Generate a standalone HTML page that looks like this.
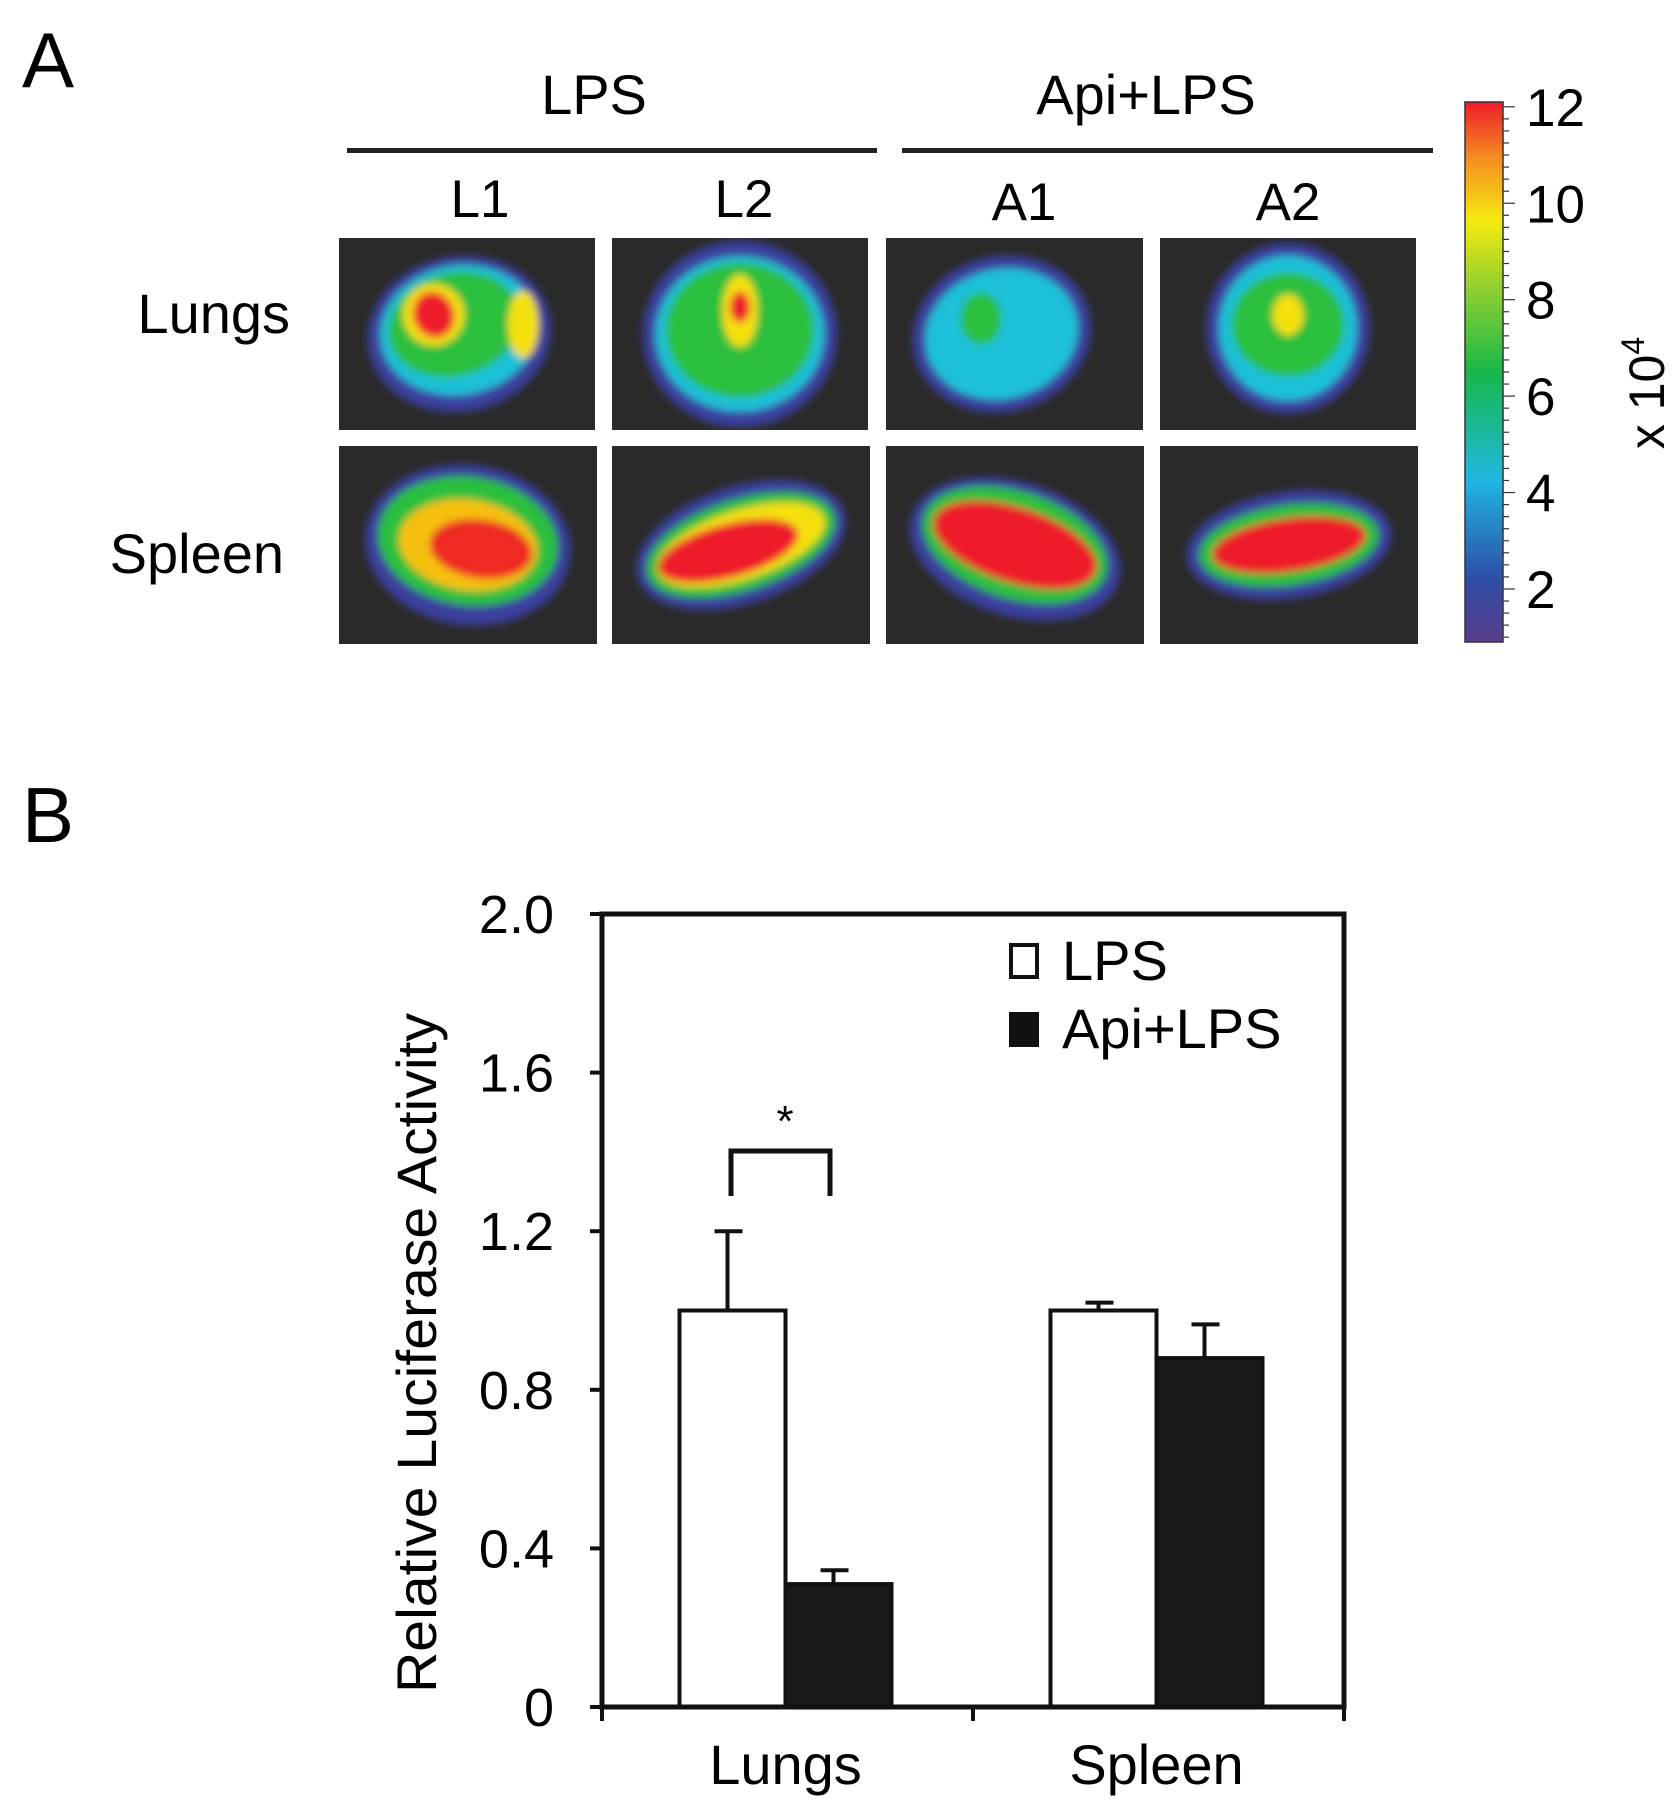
<!DOCTYPE html>
<html><head><meta charset="utf-8">
<style>
html,body{margin:0;padding:0;background:#fff;}
body{width:1677px;height:1811px;position:relative;overflow:hidden;font-family:"Liberation Sans",sans-serif;}
</style></head>
<body>
<svg width="1677" height="1811" viewBox="0 0 1677 1811" xmlns="http://www.w3.org/2000/svg" font-family="Liberation Sans, sans-serif">
<defs>
<linearGradient id="cbar" x1="0" y1="1" x2="0" y2="0">
<stop offset="0" stop-color="#5a3d8a"/><stop offset="0.12" stop-color="#2d4fa8"/>
<stop offset="0.3" stop-color="#1fb8e0"/><stop offset="0.5" stop-color="#18b848"/>
<stop offset="0.65" stop-color="#8ccf30"/><stop offset="0.78" stop-color="#f5ea10"/>
<stop offset="0.9" stop-color="#f58a20"/><stop offset="1" stop-color="#ee1c2a"/>
</linearGradient>
<filter id="bl" x="-20%" y="-20%" width="140%" height="140%"><feGaussianBlur stdDeviation="4"/></filter>
</defs>

<!-- Panel A -->
<text x="22" y="87" font-size="78">A</text>
<text x="594" y="114" font-size="56" text-anchor="middle">LPS</text>
<text x="1146" y="114" font-size="56" text-anchor="middle">Api+LPS</text>
<rect x="347" y="148" width="530" height="5" fill="#222"/>
<rect x="902" y="148" width="531" height="5" fill="#222"/>
<g font-size="53" text-anchor="middle">
<text x="480" y="217">L1</text>
<text x="744" y="217">L2</text>
<text x="1024" y="220">A1</text>
<text x="1288" y="220">A2</text>
</g>
<text x="290" y="333" font-size="56" text-anchor="end">Lungs</text>
<text x="284" y="573" font-size="56" text-anchor="end">Spleen</text>

<g id="heatmaps"></g>

<!-- colorbar -->
<rect x="1465" y="102" width="38" height="540" fill="url(#cbar)" stroke="#333" stroke-width="1.5"/>
<g id="cbticks"></g>
<text transform="translate(1664,393) rotate(-90)" font-size="50" text-anchor="middle">x 10<tspan dy="-20" font-size="32">4</tspan></text>

<!-- Panel B -->
<text x="22" y="842" font-size="78">B</text>
<g id="chart"></g>
</svg>
<script>
const NS='http://www.w3.org/2000/svg';
function mk(tag,attrs,parent){const e=document.createElementNS(NS,tag);for(const k in attrs)e.setAttribute(k,attrs[k]);parent.appendChild(e);return e;}

// ---- heatmaps (panel A, illustrative) ----
const hm=document.getElementById('heatmaps');
const defs=document.querySelector('defs');
const cells=[[339,238,256,192],[612,238,256,192],[886,238,257,192],[1160,238,256,192],
             [339,446,258,198],[612,446,258,198],[886,446,258,198],[1160,446,258,198]];
const cellNames=['lungs-l1','lungs-l2','lungs-a1','lungs-a2','spleen-l1','spleen-l2','spleen-a1','spleen-a2'];
const blobs=[
 [[0.47,0.5,0.36,0.3,-10,'#3b3f9e'],[0.47,0.48,0.31,0.25,-10,'#1cc0d8'],[0.45,0.45,0.26,0.2,-15,'#2cbf3c'],[0.37,0.4,0.12,0.12,-20,'#f5e010'],[0.72,0.45,0.06,0.13,0,'#f5e010'],[0.37,0.4,0.08,0.09,-20,'#ee1c2a']],
 [[0.5,0.5,0.38,0.36,0,'#3b3f9e'],[0.5,0.5,0.33,0.3,0,'#1cc0d8'],[0.5,0.48,0.29,0.26,0,'#2cbf3c'],[0.5,0.38,0.07,0.14,0,'#f5e010'],[0.5,0.36,0.04,0.06,0,'#ee1c2a']],
 [[0.45,0.5,0.35,0.3,-15,'#3b3f9e'],[0.45,0.5,0.3,0.25,-15,'#1cc0d8'],[0.37,0.42,0.08,0.1,0,'#2cbf3c']],
 [[0.5,0.47,0.32,0.33,0,'#3b3f9e'],[0.5,0.47,0.27,0.28,0,'#1cc0d8'],[0.5,0.45,0.22,0.2,0,'#2cbf3c'],[0.5,0.4,0.06,0.08,0,'#f5e010']],
 [[0.5,0.5,0.4,0.3,8,'#3b3f9e'],[0.5,0.48,0.35,0.24,8,'#2cbf3c'],[0.5,0.5,0.27,0.17,8,'#f5c010'],[0.55,0.52,0.2,0.11,8,'#ee2a20']],
 [[0.5,0.5,0.42,0.22,-18,'#3b3f9e'],[0.5,0.5,0.38,0.17,-18,'#2cbf3c'],[0.5,0.5,0.34,0.13,-18,'#f5e010'],[0.45,0.53,0.28,0.1,-15,'#ee1c2a']],
 [[0.5,0.52,0.42,0.25,18,'#3b3f9e'],[0.5,0.5,0.37,0.2,18,'#2cbf3c'],[0.5,0.5,0.33,0.14,18,'#ee1c2a']],
 [[0.5,0.5,0.4,0.2,-8,'#3b3f9e'],[0.5,0.5,0.35,0.15,-8,'#2cbf3c'],[0.5,0.5,0.3,0.1,-8,'#ee1c2a']]
];
cells.forEach((c,i)=>{
  const cp=mk('clipPath',{id:'cp'+i},defs);
  mk('rect',{x:c[0],y:c[1],width:c[2],height:c[3]},cp);
  const g=mk('g',{'clip-path':`url(#cp${i})`},hm);
  
  
  mk('rect',{x:c[0],y:c[1],width:c[2],height:c[3],fill:'#2a2a2a'},g);
  const bg=mk('g',{filter:'url(#bl)'},g);
  blobs[i].forEach(b=>{
    const cx=c[0]+b[0]*c[2], cy=c[1]+b[1]*c[3];
    mk('ellipse',{cx:cx,cy:cy,rx:b[2]*c[2],ry:b[3]*c[3]*1.35,fill:b[5],transform:`rotate(${b[4]} ${cx} ${cy})`},bg);
  });
});

// ---- colorbar ticks ----
const cbLabels=[2,4,6,8,10,12];
const cbMin=0.9, cbMax=12.1, cbTop=102, cbBot=642;
const cb=document.getElementById('cbticks');
function cbY(v){return cbBot-(v-cbMin)/(cbMax-cbMin)*(cbBot-cbTop);}
for(let v=1;v<=12;v+=0.25){
  const y=cbY(v);const major=Number.isInteger(v)&&v%2===0;
  mk('line',{x1:1503,x2:1503+(major?12:6),y1:y,y2:y,stroke:'#333','stroke-width':1.2},cb);
}
cbLabels.forEach(v=>{
  const t=mk('text',{x:1526,y:cbY(v)+19,'font-size':53},cb);t.textContent=v;
  
  
});

// ---- bar chart ----
const categories=['Lungs','Spleen'];
const seriesNames=['LPS','Api+LPS'];
const lpsValues=[1.0,1.0];
const lpsErrors=[0.2,0.02];
const apiValues=[0.31,0.88];
const apiErrors=[0.035,0.085];
const yTicks=[0,0.4,0.8,1.2,1.6,2.0];
const yTickLabels=['0','0.4','0.8','1.2','1.6','2.0'];

const ch=document.getElementById('chart');
const X0=602,X1=1344,Y0=1707,Y1=914,yMax=2.0;
function yS(v){return Y0-v/yMax*(Y0-Y1);}
const groupW=(X1-X0)/categories.length;
const barW=106;
function groupC(i){return X0+groupW*(i+0.5)-2;}

yTicks.forEach((v,i)=>{
  mk('line',{x1:X0-12,x2:X0,y1:yS(v),y2:yS(v),stroke:'#111','stroke-width':4},ch);
  const t=mk('text',{x:554,y:yS(v)+19,'font-size':54,'text-anchor':'end'},ch);
  t.textContent=yTickLabels[i];
  
  
});
categories.forEach((c,i)=>{
  const cx=groupC(i);
  const data=[[lpsValues[i],lpsErrors[i],'#fff','lps'],[apiValues[i],apiErrors[i],'#1a1a1a','api']];
  data.forEach((d,j)=>{
    const x=j===0?cx-barW:cx;
    const ex=x+barW/2-5;
    const ey=yS(d[0]+d[1]);
    const e=mk('path',{d:`M${ex} ${yS(d[0])} V${ey} M${ex-13} ${ey} H${ex+15}`,stroke:'#111','stroke-width':4,fill:'none'},ch);
    
    
    const r=mk('rect',{x:x,y:yS(d[0]),width:barW,height:Y0-yS(d[0]),fill:d[2],stroke:'#111','stroke-width':4},ch);
    
    
  });
  const t=mk('text',{x:cx,y:1784,'font-size':56,'text-anchor':'middle'},ch);
  t.textContent=c;
  
  
});
const ax=mk('rect',{x:X0,y:Y1,width:X1-X0,height:Y0-Y1,fill:'none',stroke:'#111','stroke-width':5},ch);


[X0,X0+groupW,X1].forEach(x=>mk('line',{x1:x,x2:x,y1:Y0,y2:Y0+14,stroke:'#111','stroke-width':4},ch));
const yt=mk('text',{transform:'translate(436,1353) rotate(-90)','font-size':56,'text-anchor':'middle',textLength:680,lengthAdjust:'spacingAndGlyphs'},ch);
yt.textContent='Relative Luciferase Activity';


const lg=mk('g',{},ch);


mk('rect',{x:1011,y:945,width:26,height:32,fill:'#fff',stroke:'#111','stroke-width':4},lg);
mk('rect',{x:1009,y:1012,width:30,height:35,fill:'#111'},lg);
const l1=mk('text',{x:1062,y:980,'font-size':56},lg);l1.textContent=seriesNames[0];


const l2=mk('text',{x:1062,y:1048,'font-size':56},lg);l2.textContent=seriesNames[1];


const br=mk('path',{d:'M731 1196 V1151 H830 V1196',stroke:'#111','stroke-width':5,fill:'none'},ch);


const st=mk('text',{x:785,y:1136,'font-size':44,'text-anchor':'middle'},ch);st.textContent='*';


</script>
</body></html>
